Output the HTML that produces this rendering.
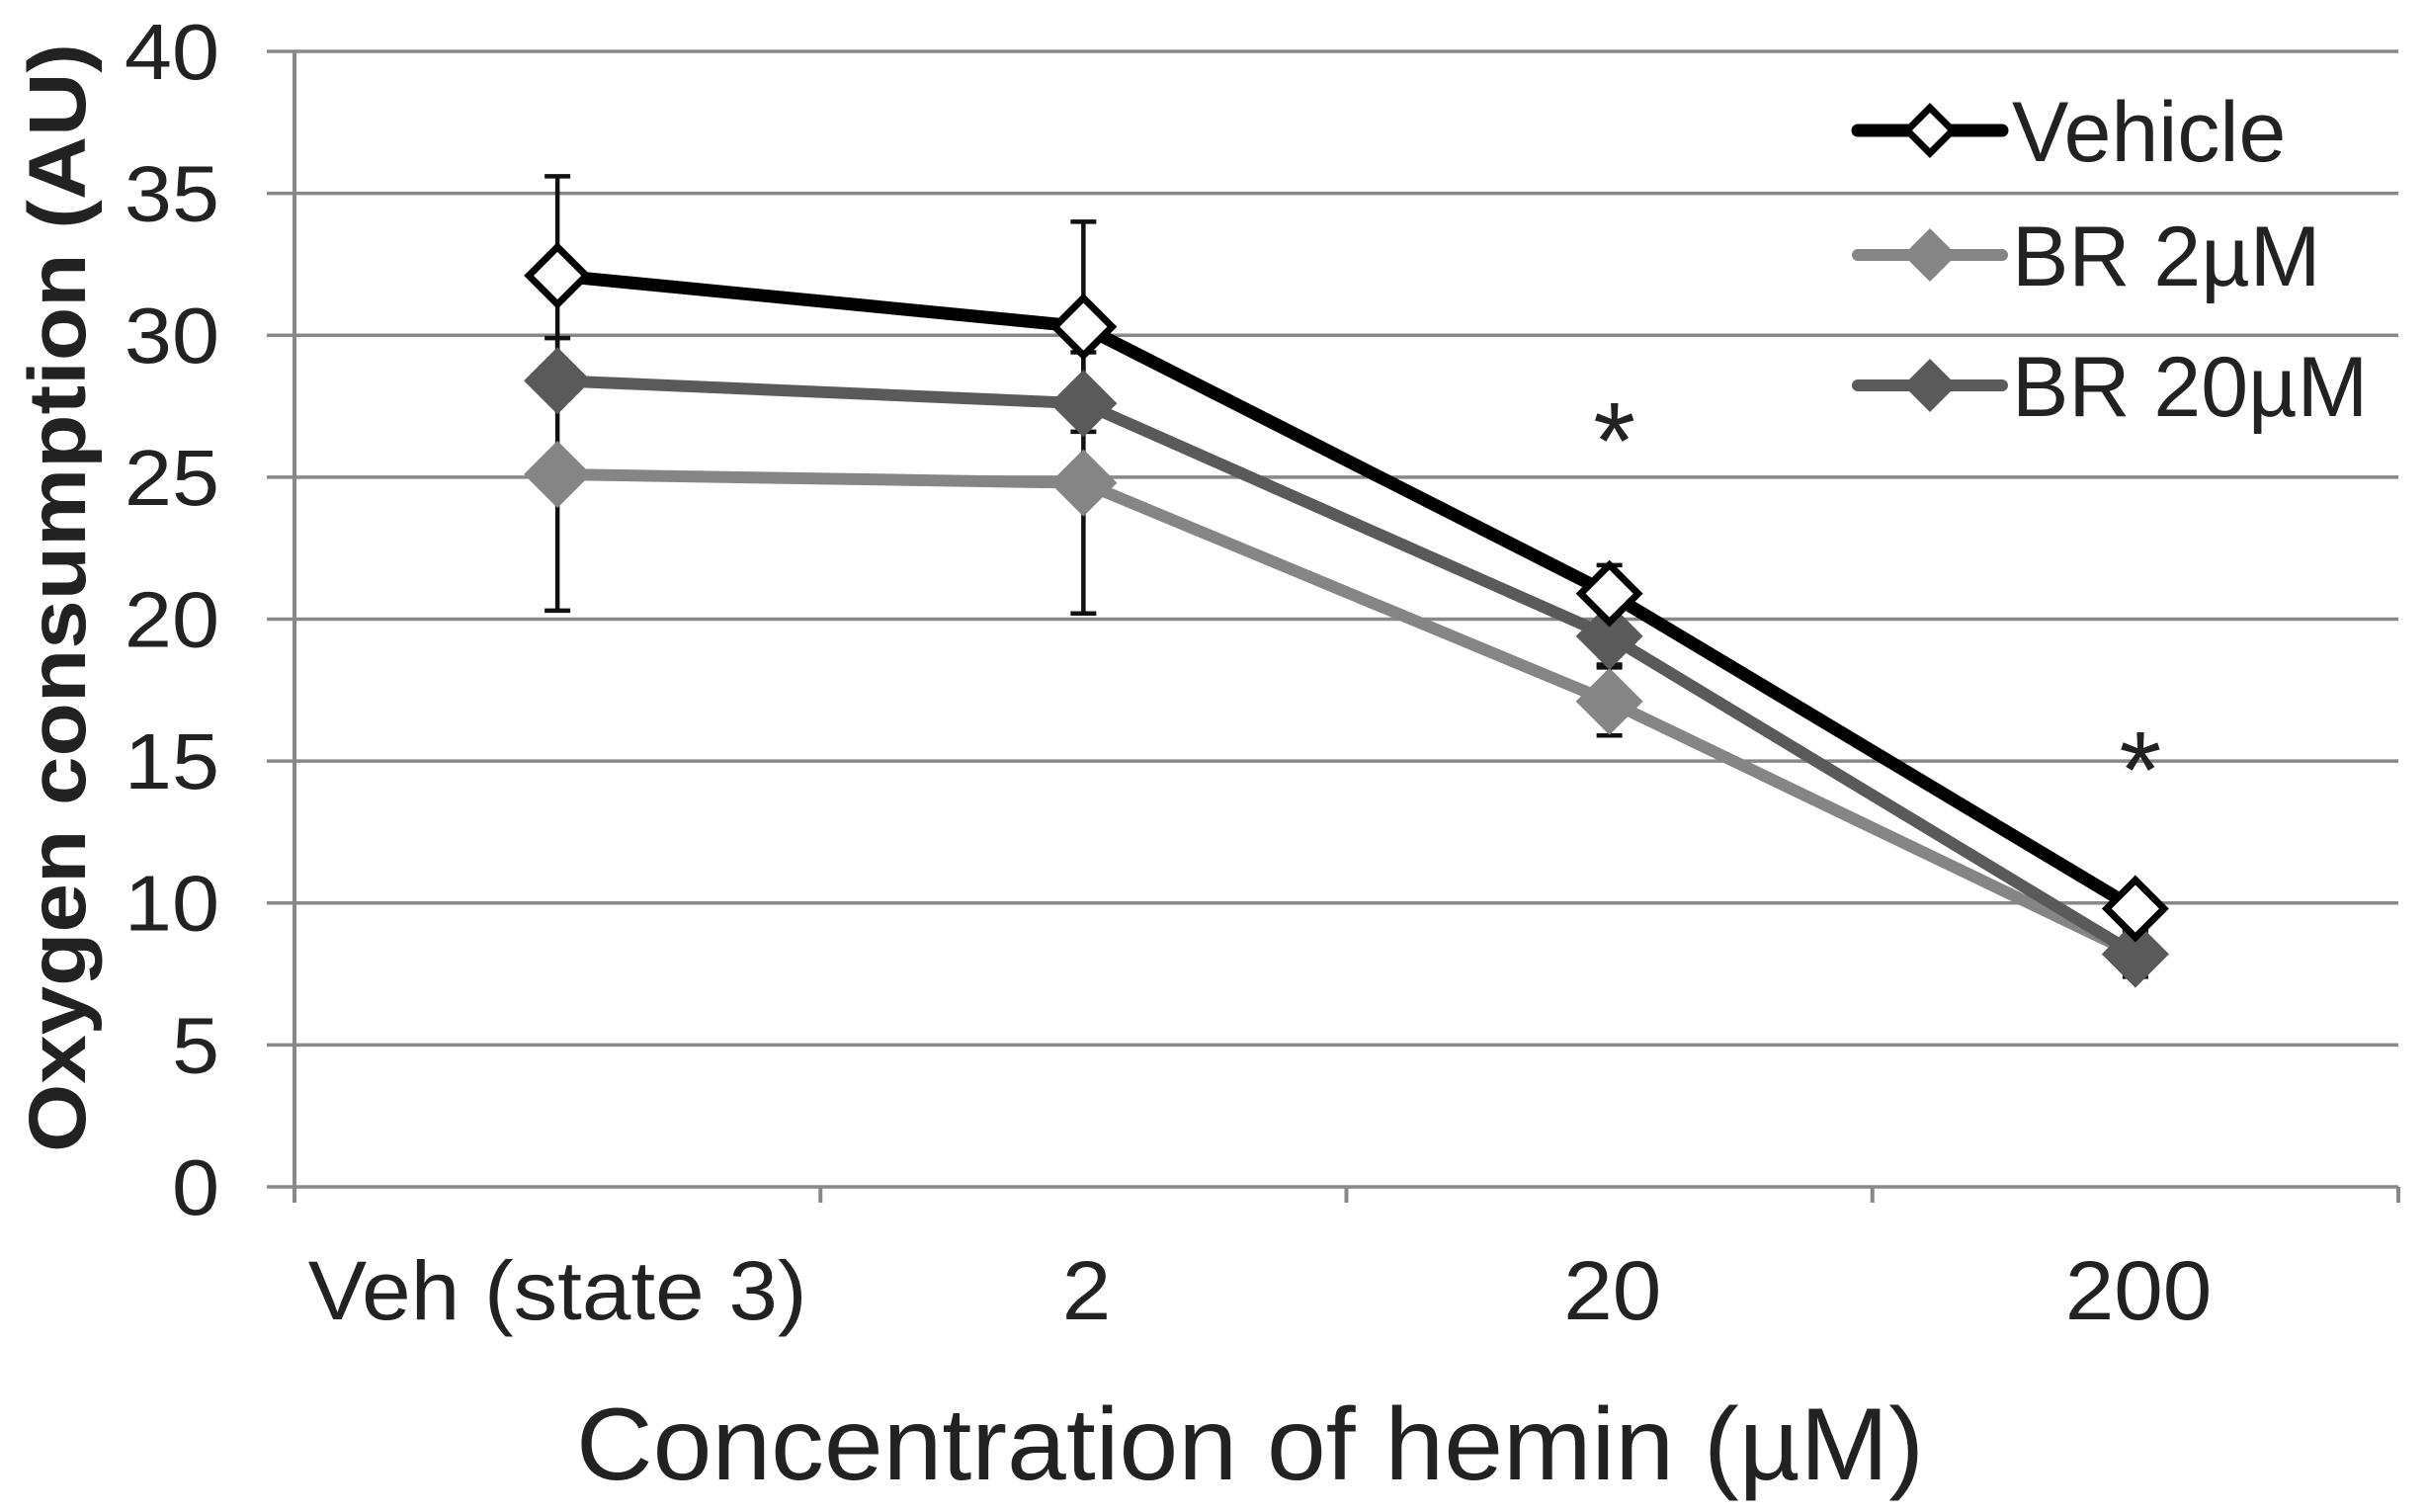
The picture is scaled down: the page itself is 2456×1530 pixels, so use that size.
<!DOCTYPE html>
<html><head><meta charset="utf-8"><style>
html,body{margin:0;padding:0;background:#fff}
svg{display:block;font-family:"Liberation Sans",Arial,sans-serif}
</style></head><body>
<svg id="chart" width="2456" height="1530" viewBox="0 0 2456 1530" xmlns="http://www.w3.org/2000/svg">
<g id="grid"></g><g id="marks"></g><g id="legend"></g>
</svg>
<script>
const categories = ["Veh (state 3)", "2", "20", "200"];
const vehicleValues = [32.1, 30.3, 20.9, 9.8];
const br2Values = [25.1, 24.8, 17.1, 8.2];
const br20Values = [28.4, 27.6, 19.4, 8.2];
const vehicleErr = [3.5, 3.7, 1.0, 0.5];
const br2Err = [4.8, 4.6, 1.2, 0.8];
const br20Err = [0, 0, 1.0, 0.5];
const yTicks = [0, 5, 10, 15, 20, 25, 30, 35, 40];
const significant = [false, false, true, true];

const NS = "http://www.w3.org/2000/svg";
const X0 = 298, X1 = 2427, Y0 = 1201, Y40 = 52;
function yS(v){ return Y0 - (v/40)*(Y0-Y40); }
function xS(i){ return X0 + (i+0.5)*(X1-X0)/categories.length; }
function mk(tag, attrs, parent, text){
  const e = document.createElementNS(NS, tag);
  for (const k in attrs) e.setAttribute(k, attrs[k]);
  if (text !== undefined) e.textContent = text;
  parent.appendChild(e); return e;
}
const grid = document.getElementById('grid');
const marks = document.getElementById('marks');
const legend = document.getElementById('legend');

yTicks.forEach(t => {
  const l = mk('line', {x1: 270, x2: X1, y1: yS(t), y2: yS(t), stroke: '#888', 'stroke-width': 3.5}, grid);
  
  
  const tx = mk('text', {x: 222, y: yS(t) + 28, 'text-anchor': 'end', 'font-size': 80, fill: '#222', transform: `translate(222,0) scale(1.08,1) translate(-222,0)`}, grid, String(t));
  
  
});
const ya = mk('line', {x1: X0, x2: X0, y1: Y40, y2: Y0 + 14, stroke: '#888', 'stroke-width': 4}, grid);


for (let i = 0; i <= categories.length; i++) {
  const x = X0 + i*(X1-X0)/categories.length;
  const tk = mk('line', {x1: x, x2: x, y1: Y0, y2: Y0 + 16, stroke: '#888', 'stroke-width': 4}, grid);
  
  
}
categories.forEach((c, i) => {
  const tx = mk('text', {x: xS(i) + (i === 0 ? 0 : 3), y: 1335, 'text-anchor': 'middle', 'font-size': 84, fill: '#222', transform: `translate(${xS(i)},0) scale(1.06,1) translate(${-xS(i)},0)`}, grid, c);
  
  
});
const xt = mk('text', {x: 1265, y: 1497, 'text-anchor': 'middle', 'font-size': 104, fill: '#222', textLength: 1364, lengthAdjust: 'spacingAndGlyphs'}, grid, 'Concentration of hemin (µM)');


const yt = mk('text', {x: 0, y: 0, 'text-anchor': 'middle', 'font-size': 82, 'font-weight': 'bold', fill: '#222', textLength: 1122, lengthAdjust: 'spacingAndGlyphs', transform: 'translate(86,605) rotate(-90)'}, grid, 'Oxygen consumption (AU)');



function errBars(vals, errs, name){
  vals.forEach((v, i) => {
    if (!errs[i]) return;
    const x = xS(i);
    const g = mk('g', {stroke: '#111', 'stroke-width': 4.5}, marks);
    
    
    mk('line', {x1: x, x2: x, y1: yS(v + errs[i]), y2: yS(v - errs[i])}, g);
    mk('line', {x1: x - 13, x2: x + 13, y1: yS(v + errs[i]), y2: yS(v + errs[i])}, g);
    mk('line', {x1: x - 13, x2: x + 13, y1: yS(v - errs[i]), y2: yS(v - errs[i])}, g);
  });
}
errBars(br2Values, br2Err, 'br-2um');
errBars(br20Values, br20Err, 'br-20um');
errBars(vehicleValues, vehicleErr, 'vehicle');

function diamond(x, y, r){ return `M${x},${y-r} L${x+r},${y} L${x},${y+r} L${x-r},${y} Z`; }
function series(vals, color, width, fill, name){
  const p = mk('polyline', {points: vals.map((v, i) => xS(i) + ',' + yS(v)).join(' '), fill: 'none', stroke: color, 'stroke-width': width, 'stroke-linejoin': 'round'}, marks);
  
  
  vals.forEach((v, i) => {
    const d = mk('path', {d: diamond(xS(i), yS(v), fill === '#fff' ? 29 : 34), fill: fill, stroke: fill === '#fff' ? '#000' : 'none', 'stroke-width': 7}, marks);
    
    
  });
}
series(br2Values, '#858585', 12, '#858585', 'br-2um');
series(br20Values, '#5a5a5a', 12, '#5a5a5a', 'br-20um');
series(vehicleValues, '#000', 13, '#fff', 'vehicle');

significant.forEach((s, i) => {
  if (!s) return;
  const v = Math.max(vehicleValues[i] + vehicleErr[i], br2Values[i] + br2Err[i]);
  const a = mk('text', {x: xS(i) + 5, y: yS(v) - 88, 'text-anchor': 'middle', 'font-size': 110, fill: '#222'}, marks, '*');
  
  
});

const legItems = [['Vehicle', '#000', '#fff', 132], ['BR 2µM', '#858585', '#858585', 258], ['BR 20µM', '#5a5a5a', '#5a5a5a', 390]];
legItems.forEach(([label, col, fill, y]) => {
  const g = mk('g', {}, legend);
  
  
  mk('line', {x1: 1880, x2: 2026, y1: y, y2: y, stroke: col, 'stroke-width': fill === '#fff' ? 13 : 12, 'stroke-linecap': 'round'}, g);
  mk('path', {d: diamond(1953, y, fill === '#fff' ? 23 : 27), fill: fill, stroke: fill === '#fff' ? '#000' : 'none', 'stroke-width': 7}, g);
  mk('text', {x: 2036, y: y + 31, 'font-size': 86, fill: '#222'}, g, label);
});
</script>
</body></html>
